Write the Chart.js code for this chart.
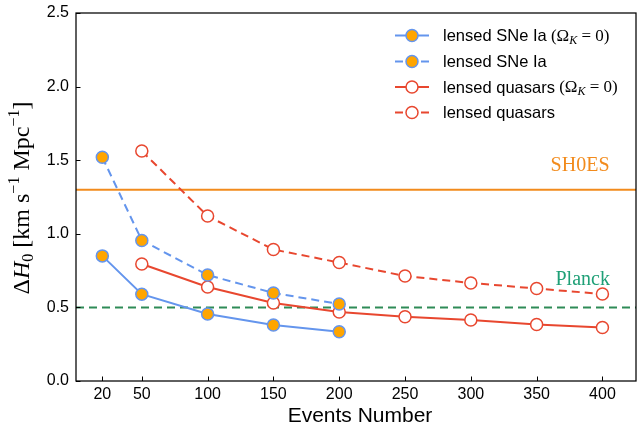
<!DOCTYPE html>
<html>
<head>
<meta charset="utf-8">
<script src="https://cdn.jsdelivr.net/npm/chart.js@4.4.1/dist/chart.umd.min.js"></script>
<style>
  html, body { margin: 0; padding: 0; background: #fff; }
</style>
</head>
<body>
<canvas id="chart" width="637" height="435"></canvas>
<script>
// data
const eventsSne = [20, 50, 100, 150, 200];
const eventsQso = [50, 100, 150, 200, 250, 300, 350, 400];
const sneFlat = [0.85, 0.59, 0.455, 0.38, 0.335];
const sneFree = [1.52, 0.955, 0.72, 0.598, 0.523];
const qsoFlat = [0.795, 0.639, 0.53, 0.469, 0.437, 0.414, 0.384, 0.363];
const qsoFree = [1.562, 1.121, 0.893, 0.805, 0.713, 0.666, 0.628, 0.591];
const xTicks = [20, 50, 100, 150, 200, 250, 300, 350, 400];
const yTicks = [0, 0.5, 1.0, 1.5, 2.0, 2.5];
const sh0es = 1.3;
const planck = 0.5;

const X_MAX = 425.5;
const BLUE = '#6495ED', GOLD = '#FFA500', RED = '#E8472F';
const ORANGE = '#F28B1C', GREEN = '#2E8B57', GREEN_TXT = '#1FA077';
const SANS = '"Liberation Sans", Arial, sans-serif';
const SERIF = '"Liberation Serif", "DejaVu Serif", serif';
const DASH = [8, 5];

const pts = (xs, ys) => xs.map((x, i) => ({ x: x, y: ys[i] }));

const datasets = [
  { label: 'lensed SNe Ia', flat: true, data: pts(eventsSne, sneFlat),
    borderColor: BLUE, pointBackgroundColor: GOLD, dash: [] },
  { label: 'lensed SNe Ia', flat: false, data: pts(eventsSne, sneFree),
    borderColor: BLUE, pointBackgroundColor: GOLD, dash: DASH },
  { label: 'lensed quasars', flat: true, data: pts(eventsQso, qsoFlat),
    borderColor: RED, pointBackgroundColor: '#fff', dash: [] },
  { label: 'lensed quasars', flat: false, data: pts(eventsQso, qsoFree),
    borderColor: RED, pointBackgroundColor: '#fff', dash: DASH },
].map(d => ({
  label: d.label,
  flat: d.flat,
  data: d.data,
  borderColor: d.borderColor,
  borderDash: d.dash,
  borderWidth: 2,
  pointBorderColor: d.borderColor,
  pointBackgroundColor: d.pointBackgroundColor,
  pointBorderWidth: 1.5,
  pointRadius: 6,
  pointHoverRadius: 6,
  tension: 0,
  order: 1
}));

// SH0ES / Planck reference lines (behind the curves)
datasets.push({
  label: 'SH0ES', ref: true, data: [{ x: 0, y: sh0es }, { x: X_MAX, y: sh0es }],
  borderColor: ORANGE, borderWidth: 2, pointRadius: 0, order: 10
});
datasets.push({
  label: 'Planck', ref: true, data: [{ x: 0, y: planck }, { x: X_MAX, y: planck }],
  borderColor: GREEN, borderWidth: 2, borderDash: DASH, pointRadius: 0, order: 10
});

// draw a run of text parts, each with its own font and baseline shift
function richWidth(ctx, parts) {
  let w = 0;
  parts.forEach(p => { ctx.font = p.font; w += ctx.measureText(p.t).width; });
  return w;
}
function drawRich(ctx, parts, x, y) {
  let cx = x;
  parts.forEach(p => {
    ctx.font = p.font;
    ctx.fillText(p.t, cx, y + (p.dy || 0));
    cx += ctx.measureText(p.t).width;
  });
}

const framePlugin = {
  id: 'frame',
  afterDatasetsDraw(chart) {
    const { ctx, chartArea: a, scales } = chart;
    ctx.save();
    ctx.strokeStyle = '#000';
    ctx.lineWidth = 1.25;
    ctx.strokeRect(a.left, a.top, a.right - a.left, a.bottom - a.top);
    // inward ticks
    ctx.lineWidth = 1;
    ctx.beginPath();
    xTicks.forEach(v => {
      const px = Math.round(scales.x.getPixelForValue(v)) + 0.5;
      ctx.moveTo(px, a.bottom); ctx.lineTo(px, a.bottom - 4.5);
    });
    yTicks.forEach(v => {
      const py = Math.round(scales.y.getPixelForValue(v)) + 0.5;
      ctx.moveTo(a.left, py); ctx.lineTo(a.left + 4.5, py);
    });
    ctx.stroke();

    // reference labels
    ctx.textAlign = 'center';
    ctx.textBaseline = 'middle';
    ctx.font = '20px ' + SERIF;
    ctx.fillStyle = ORANGE;
    ctx.fillText('SH0ES', scales.x.getPixelForValue(383), scales.y.getPixelForValue(1.46));
    ctx.fillStyle = GREEN_TXT;
    ctx.fillText('Planck', scales.x.getPixelForValue(385), scales.y.getPixelForValue(0.69));

    // axis titles
    ctx.fillStyle = '#000';
    ctx.font = '21px ' + SANS;
    ctx.fillText('Events Number', (a.left + a.right) / 2 + 4, 416);

    // y title: pick the size so the label spans the same height as in the figure
    const make = sz => {
      const big = sz + 'px ' + SERIF, small = Math.round(sz * 0.68) + 'px ' + SERIF;
      return [
        { t: 'Δ', font: big },
        { t: 'H', font: 'italic ' + big },
        { t: '0', font: small, dy: sz * 0.25 },
        { t: ' [km s', font: big },
        { t: '−1', font: small, dy: -sz * 0.36 },
        { t: ' Mpc', font: big },
        { t: '−1', font: small, dy: -sz * 0.36 },
        { t: ']', font: big }
      ];
    };
    let sz = 19;
    const w0 = richWidth(ctx, make(sz));
    sz = Math.min(24, sz * 197 / w0);
    const yParts = make(sz);
    ctx.save();
    ctx.translate(23, 198);
    ctx.rotate(-Math.PI / 2);
    ctx.textAlign = 'left';
    const w = richWidth(ctx, yParts);
    drawRich(ctx, yParts, -w / 2, 0);
    ctx.restore();
    ctx.restore();
  }
};

const legendPlugin = {
  id: 'mplLegend',
  afterDraw(chart) {
    const { ctx } = chart;
    const rows = [35.5, 61.5, 87, 112.5];
    ctx.save();
    chart.data.datasets.filter(d => !d.ref).forEach((d, i) => {
      const y = rows[i];
      ctx.strokeStyle = d.borderColor;
      ctx.lineWidth = 2;
      ctx.beginPath();
      if (d.borderDash.length) {
        ctx.moveTo(395, y); ctx.lineTo(403, y);
        ctx.moveTo(421, y); ctx.lineTo(429, y);
      } else {
        ctx.moveTo(395, y); ctx.lineTo(429, y);
      }
      ctx.stroke();
      ctx.beginPath();
      ctx.arc(412, y, 6, 0, Math.PI * 2);
      ctx.fillStyle = d.pointBackgroundColor;
      ctx.fill();
      ctx.lineWidth = 1.5;
      ctx.stroke();

      ctx.fillStyle = '#000';
      ctx.textAlign = 'left';
      ctx.textBaseline = 'middle';
      const parts = [{ t: d.label, font: '16.5px ' + SANS }];
      if (d.flat) {
        const s = '17px ' + SERIF;
        parts.push({ t: ' (Ω', font: s });
        parts.push({ t: 'K', font: 'italic 12px ' + SERIF, dy: 4 });
        parts.push({ t: ' = 0)', font: s });
      }
      drawRich(ctx, parts, 443, y + 1);
    });
    ctx.restore();
  }
};

new Chart(document.getElementById('chart'), {
  type: 'line',
  data: { datasets: datasets },
  plugins: [framePlugin, legendPlugin],
  options: {
    responsive: false,
    animation: false,
    events: [],
    layout: { autoPadding: false, padding: { top: 13, right: 1, left: 0, bottom: 0 } },
    plugins: { legend: { display: false }, tooltip: { enabled: false } },
    scales: {
      x: {
        type: 'linear',
        min: 0,
        max: X_MAX,
        afterFit: s => { s.height = 54; s.paddingLeft = 0; s.paddingRight = 0; },
        afterBuildTicks: s => { s.ticks = xTicks.map(v => ({ value: v })); },
        grid: { display: false, drawTicks: false },
        border: { display: false },
        ticks: { font: { family: SANS, size: 16 }, color: '#000', padding: 4, maxRotation: 0, autoSkip: false }
      },
      y: {
        type: 'linear',
        min: 0,
        max: 2.5,
        afterFit: s => { s.width = 76; s.paddingTop = 0; s.paddingBottom = 0; },
        afterBuildTicks: s => { s.ticks = yTicks.map(v => ({ value: v })); },
        grid: { display: false, drawTicks: false },
        border: { display: false },
        ticks: { font: { family: SANS, size: 16 }, color: '#000', padding: 7,
                 callback: v => v.toFixed(1) }
      }
    }
  }
});
</script>
</body>
</html>
